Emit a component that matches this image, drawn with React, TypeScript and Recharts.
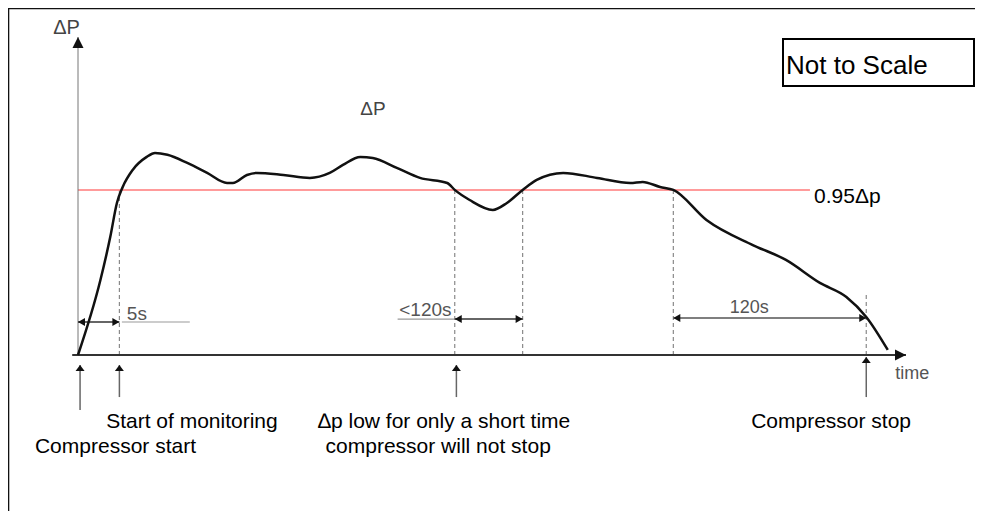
import React from "react";
import { LineChart, Line, XAxis, YAxis, ReferenceLine, ReferenceDot } from "recharts";

// Sketch values: time in arbitrary units (not to scale), ΔP with nominal = 100.
const time = [
  0, 2.7, 3.9, 4.7, 5.4, 6.6, 8.3, 9.3, 10.8, 13.2, 15.6, 18.0, 18.7, 20.4, 21.6,
  24.8, 28.0, 30.4, 32.0, 34.1, 35.6, 38.5, 41.3, 44.6, 45.5, 47.3, 50.1, 51.8,
  53.7, 55.4, 58.6, 62.7, 66.7, 68.2, 70.3, 71.9, 75.9, 81.5, 85.5, 89.6, 92.8,
  95.2, 97.8,
];
const deltaP = [
  0, 43, 68, 87.5, 96.7, 106.5, 114, 116.3, 115.2, 110.5, 104.8, 99, 99, 103.6,
  104.8, 103.6, 101.9, 104.8, 109.4, 114, 113.4, 107.7, 101.9, 99, 95, 89.2, 83.5,
  87.5, 95, 100.8, 104.8, 101.9, 99, 99.6, 96.7, 95, 77.7, 63.3, 54.7, 41.5, 33.4,
  21.9, 2.9,
];

const threshold = 95; // 0.95Δp
const thresholdEnd = 88.4;
const yTop = 183;
const xEnd = 100;

// events on the time axis
const tStart = 0;
const tMonitor = 5;
const tLowStart = 45.5;
const tLowEnd = 53.7;
const tLastCross = 71.9;
const tStop = 95.2;

const data = time.map((t, i) => ({ t, dp: deltaP[i] }));

const FONT = "'Liberation Sans', Arial, sans-serif";

type ArrowOpts = {
  start?: boolean;
  end?: boolean;
  stroke: string;
  width: number;
  head?: number;
  half?: number;
  dash?: string;
  fill?: string;
};

function arrowShape(o: ArrowOpts) {
  return (p: any) => {
    const { x1, y1, x2, y2 } = p;
    const dx = x2 - x1;
    const dy = y2 - y1;
    const len = Math.hypot(dx, dy) || 1;
    const ux = dx / len;
    const uy = dy / len;
    const h = o.head ?? 8;
    const w = o.half ?? 4;
    const tri = (tx: number, ty: number, ax: number, ay: number) => {
      const bx = tx - ax * h;
      const by = ty - ay * h;
      return `${tx},${ty} ${bx - ay * w},${by + ax * w} ${bx + ay * w},${by - ax * w}`;
    };
    return (
      <g>
        <line
          x1={x1}
          y1={y1}
          x2={x2}
          y2={y2}
          stroke={o.stroke}
          strokeWidth={o.width}
          strokeDasharray={o.dash}
        />
        {o.end && <polygon points={tri(x2, y2, ux, uy)} fill={o.fill ?? "#111"} />}
        {o.start && <polygon points={tri(x1, y1, -ux, -uy)} fill={o.fill ?? "#111"} />}
      </g>
    );
  };
}

function textShape(text: string, size: number, color: string) {
  return (p: any) => (
    <text x={p.cx} y={p.cy} fontSize={size} fill={color} fontFamily={FONT}>
      {text}
    </text>
  );
}

const labels = [
  { t: -3.0, v: 184.8, text: "ΔP", size: 20, color: "#444" },
  { t: 34.1, v: 138.2, text: "ΔP", size: 19, color: "#444" },
  { t: 88.9, v: 87.5, text: "0.95Δp", size: 21, color: "#000" },
  { t: 98.7, v: -13.8, text: "time", size: 18, color: "#555" },
  { t: 5.9, v: 20.2, text: "5s", size: 19, color: "#555" },
  { t: 38.8, v: 22.5, text: "<120s", size: 19, color: "#555" },
  { t: 78.7, v: 24.2, text: "120s", size: 18, color: "#555" },
  { t: 3.4, v: -42.0, text: "Start of monitoring", size: 21, color: "#000" },
  { t: -5.2, v: -56.3, text: "Compressor start", size: 21, color: "#000" },
  { t: 29.0, v: -42.0, text: "∆p low for only a short time", size: 21, color: "#000" },
  { t: 29.9, v: -56.3, text: "compressor will not stop", size: 21, color: "#000" },
  { t: 81.3, v: -42.0, text: "Compressor stop", size: 21, color: "#000" },
];

const dashed = [
  { t: tMonitor, from: threshold },
  { t: tLowStart, from: threshold },
  { t: tLowEnd, from: threshold },
  { t: tLastCross, from: threshold },
  { t: tStop, from: 34.5 },
];

const upArrows = [
  { t: tStart + 0.25, tip: -5.8, tail: -31.7 },
  { t: tMonitor, tip: -5.8, tail: -24.2 },
  { t: tLowStart + 0.2, tip: -5.8, tail: -24.2 },
  { t: tStop, tip: -1.2, tail: -24.2 },
];

export default function App() {
  return (
    <div style={{ position: "relative", width: 975, height: 503 }}>
      <LineChart
        width={975}
        height={503}
        data={data}
        margin={{ top: 29, right: 77, bottom: 156, left: 70 }}
      >
        <XAxis dataKey="t" type="number" domain={[0, xEnd]} hide />
        <YAxis type="number" domain={[0, yTop]} hide />

        {dashed.map((d, i) => (
          <ReferenceLine
            key={"d" + i}
            ifOverflow="visible"
            segment={[{ x: d.t, y: d.from }, { x: d.t, y: 0 }]}
            shape={arrowShape({ stroke: "#8a8a8a", width: 1.2, dash: "4 3" })}
          />
        ))}

        <ReferenceLine
          ifOverflow="visible"
          segment={[{ x: 0, y: threshold }, { x: thresholdEnd, y: threshold }]}
          shape={arrowShape({ stroke: "#ff7a7a", width: 1.5 })}
        />

        {/* axes */}
        <ReferenceLine
          ifOverflow="visible"
          segment={[{ x: 0, y: 0 }, { x: 0, y: yTop }]}
          shape={arrowShape({ stroke: "#777", width: 1, end: true, head: 11, half: 5.5 })}
        />
        <ReferenceLine
          ifOverflow="visible"
          segment={[{ x: -0.7, y: 0 }, { x: xEnd, y: 0 }]}
          shape={arrowShape({ stroke: "#333", width: 2, end: true, head: 11, half: 5.5 })}
        />

        {/* duration markers */}
        <ReferenceLine
          ifOverflow="visible"
          segment={[{ x: tStart, y: 19 }, { x: tMonitor, y: 19 }]}
          shape={arrowShape({ stroke: "#333", width: 1.5, start: true, end: true, head: 7, half: 4 })}
        />
        <ReferenceLine
          ifOverflow="visible"
          segment={[{ x: 5.3, y: 19 }, { x: 13.5, y: 19 }]}
          shape={arrowShape({ stroke: "#999", width: 1.2 })}
        />
        <ReferenceLine
          ifOverflow="visible"
          segment={[{ x: 38.6, y: 20.7 }, { x: tLowStart, y: 20.7 }]}
          shape={arrowShape({ stroke: "#999", width: 1.2 })}
        />
        <ReferenceLine
          ifOverflow="visible"
          segment={[{ x: tLowStart, y: 20.7 }, { x: tLowEnd, y: 20.7 }]}
          shape={arrowShape({ stroke: "#333", width: 1.5, start: true, end: true, head: 7, half: 4 })}
        />
        <ReferenceLine
          ifOverflow="visible"
          segment={[{ x: tLastCross, y: 21.3 }, { x: tStop, y: 21.3 }]}
          shape={arrowShape({ stroke: "#555", width: 1.5, start: true, end: true, head: 7, half: 4 })}
        />

        {upArrows.map((a, i) => (
          <ReferenceLine
            key={"u" + i}
            ifOverflow="visible"
            segment={[{ x: a.t, y: a.tail }, { x: a.t, y: a.tip }]}
            shape={arrowShape({ stroke: "#666", width: 1.5, end: true, head: 6, half: 4.5 })}
          />
        ))}

        <Line
          type="monotone"
          dataKey="dp"
          stroke="#111"
          strokeWidth={2.5}
          dot={false}
          isAnimationActive={false}
        />

        {labels.map((l, i) => (
          <ReferenceDot
            key={"l" + i}
            x={l.t}
            y={l.v}
            r={0}
            ifOverflow="visible"
            shape={textShape(l.text, l.size, l.color)}
          />
        ))}
      </LineChart>

      <svg
        width={975}
        height={503}
        style={{ position: "absolute", left: 0, top: 0, overflow: "visible", pointerEvents: "none" }}
      >
        <line x1={0} y1={0.3} x2={975} y2={0.3} stroke="#111" strokeWidth={2} />
        <line x1={0.3} y1={0} x2={0.3} y2={503} stroke="#111" strokeWidth={2} />
        <rect x={775} y={31} width={191} height={47} fill="none" stroke="#000" strokeWidth={2} />
        <text x={778} y={66} fontSize={26} fontFamily={FONT} fill="#000">
          Not to Scale
        </text>
      </svg>
    </div>
  );
}
